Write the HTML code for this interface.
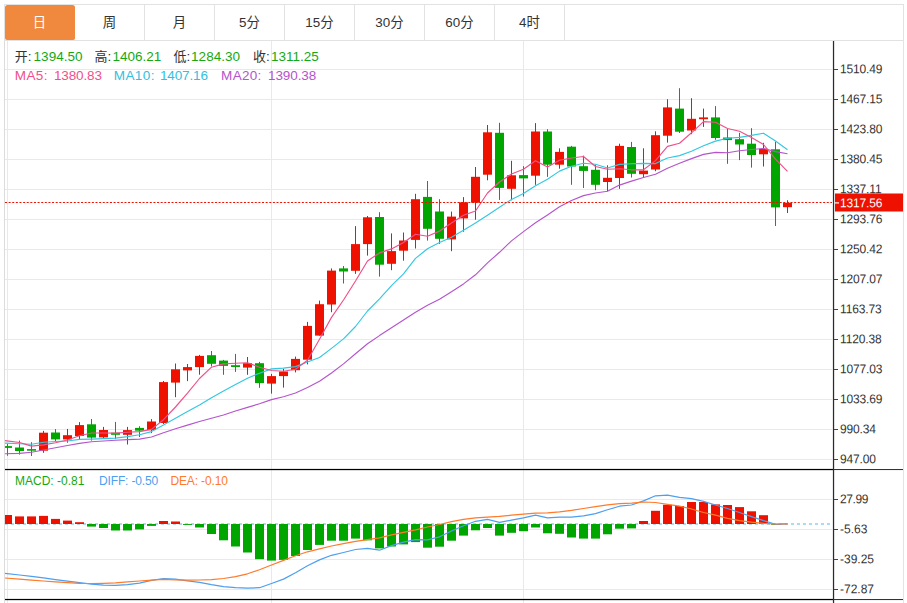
<!DOCTYPE html>
<html lang="zh"><head><meta charset="utf-8"><title>K线图</title>
<style>
html,body{margin:0;padding:0;background:#fff}
body{width:907px;height:603px;overflow:hidden;position:relative;font-family:"Liberation Sans","Noto Sans CJK SC",sans-serif;color:#333}
#g{position:absolute;left:0;top:0}
#tabs{position:absolute;left:4px;top:4px;width:898px;height:35px;border:1px solid #e2e2e2;background:#fff}
.tab{position:absolute;top:0;width:69px;height:35px;border-right:1px solid #e2e2e2;text-align:center;line-height:36px;font-size:13.4px;color:#333}
.tab.on{background:#f0883e;color:#fff;border-radius:2.5px 2.5px 2px 2px;border-right-color:#f0883e;height:35px}
.ax{position:absolute;left:840.4px;font-size:12px;line-height:16px;letter-spacing:-0.15px;transform:rotate(0.03deg) scaleY(1.06);transform-origin:0 50%;color:#333;white-space:nowrap}
.ax.cur{color:#fff}
.t{position:absolute;white-space:nowrap;font-size:13.5px;line-height:16px}
.n{letter-spacing:0.02px}
.n2{letter-spacing:-0.12px}
.cj{font-size:13px}
.m{font-size:12px;letter-spacing:0}
.gr{color:#14a814}
</style></head><body>
<svg id="g" width="907" height="603" viewBox="0 0 907 603">
<defs><clipPath id="cp2"><rect x="5" y="470" width="828" height="129"/></clipPath><clipPath id="cp"><rect x="5" y="41" width="828" height="428"/></clipPath></defs>
<rect x="5" y="69" width="827" height="1" fill="#e0ebf3"/>
<rect x="5" y="99" width="827" height="1" fill="#e0ebf3"/>
<rect x="5" y="129" width="827" height="1" fill="#e0ebf3"/>
<rect x="5" y="159" width="827" height="1" fill="#e0ebf3"/>
<rect x="5" y="189" width="827" height="1" fill="#e0ebf3"/>
<rect x="5" y="219" width="827" height="1" fill="#e0ebf3"/>
<rect x="5" y="249" width="827" height="1" fill="#e0ebf3"/>
<rect x="5" y="279" width="827" height="1" fill="#e0ebf3"/>
<rect x="5" y="309" width="827" height="1" fill="#e0ebf3"/>
<rect x="5" y="339" width="827" height="1" fill="#e0ebf3"/>
<rect x="5" y="369" width="827" height="1" fill="#e0ebf3"/>
<rect x="5" y="399" width="827" height="1" fill="#e0ebf3"/>
<rect x="5" y="429" width="827" height="1" fill="#e0ebf3"/>
<rect x="5" y="459" width="827" height="1" fill="#e0ebf3"/>
<rect x="5" y="499" width="827" height="1" fill="#e0ebf3"/>
<rect x="5" y="529" width="827" height="1" fill="#e0ebf3"/>
<rect x="5" y="559" width="827" height="1" fill="#e0ebf3"/>
<rect x="5" y="589" width="827" height="1" fill="#e0ebf3"/>
<rect x="7" y="41" width="1" height="562" fill="#e0ebf3"/>
<rect x="271" y="41" width="1" height="562" fill="#e0ebf3"/>
<rect x="523" y="41" width="1" height="562" fill="#e0ebf3"/>
<line x1="5" y1="524" x2="833" y2="524" stroke="#a9dbf1" stroke-width="2" stroke-dasharray="3 3"/>
<g clip-path="url(#cp2)">
<rect x="3" y="515" width="9" height="9" fill="#ee1100"/>
<rect x="15" y="516.4" width="9" height="7.6" fill="#ee1100"/>
<rect x="27" y="516.4" width="9" height="7.6" fill="#ee1100"/>
<rect x="39" y="515.9" width="9" height="8.1" fill="#ee1100"/>
<rect x="51" y="518.9" width="9" height="5.1" fill="#ee1100"/>
<rect x="63" y="520.6" width="9" height="3.4" fill="#ee1100"/>
<rect x="75" y="522.2" width="9" height="1.8" fill="#ee1100"/>
<rect x="87" y="524" width="9" height="2.6" fill="#00a500"/>
<rect x="99" y="524" width="9" height="4" fill="#00a500"/>
<rect x="111" y="524" width="9" height="6.5" fill="#00a500"/>
<rect x="123" y="524" width="9" height="6.5" fill="#00a500"/>
<rect x="135" y="524" width="9" height="5.4" fill="#00a500"/>
<rect x="147" y="524" width="9" height="1.9" fill="#00a500"/>
<rect x="159" y="521" width="9" height="3" fill="#ee1100"/>
<rect x="171" y="521.5" width="9" height="2.5" fill="#ee1100"/>
<rect x="183" y="524" width="9" height="0.9" fill="#00a500"/>
<rect x="195" y="524" width="9" height="3.5" fill="#00a500"/>
<rect x="207" y="524" width="9" height="10" fill="#00a500"/>
<rect x="219" y="524" width="9" height="16.3" fill="#00a500"/>
<rect x="231" y="524" width="9" height="22.5" fill="#00a500"/>
<rect x="243" y="524" width="9" height="28.5" fill="#00a500"/>
<rect x="255" y="524" width="9" height="35.2" fill="#00a500"/>
<rect x="267" y="524" width="9" height="36.6" fill="#00a500"/>
<rect x="279" y="524" width="9" height="35.9" fill="#00a500"/>
<rect x="291" y="524" width="9" height="32" fill="#00a500"/>
<rect x="303" y="524" width="9" height="26" fill="#00a500"/>
<rect x="315" y="524" width="9" height="20.9" fill="#00a500"/>
<rect x="327" y="524" width="9" height="16.7" fill="#00a500"/>
<rect x="339" y="524" width="9" height="16.7" fill="#00a500"/>
<rect x="351" y="524" width="9" height="14.6" fill="#00a500"/>
<rect x="363" y="524" width="9" height="16.3" fill="#00a500"/>
<rect x="375" y="524" width="9" height="24.4" fill="#00a500"/>
<rect x="387" y="524" width="9" height="22.5" fill="#00a500"/>
<rect x="399" y="524" width="9" height="20.4" fill="#00a500"/>
<rect x="411" y="524" width="9" height="18.1" fill="#00a500"/>
<rect x="423" y="524" width="9" height="23.7" fill="#00a500"/>
<rect x="435" y="524" width="9" height="22.7" fill="#00a500"/>
<rect x="447" y="524" width="9" height="16.7" fill="#00a500"/>
<rect x="459" y="524" width="9" height="11.6" fill="#00a500"/>
<rect x="471" y="524" width="9" height="6.3" fill="#00a500"/>
<rect x="483" y="524" width="9" height="4" fill="#00a500"/>
<rect x="495" y="524" width="9" height="11.6" fill="#00a500"/>
<rect x="507" y="524" width="9" height="8.8" fill="#00a500"/>
<rect x="519" y="524" width="9" height="7.2" fill="#00a500"/>
<rect x="531" y="524" width="9" height="3.5" fill="#00a500"/>
<rect x="543" y="524" width="9" height="9.3" fill="#00a500"/>
<rect x="555" y="524" width="9" height="9.8" fill="#00a500"/>
<rect x="567" y="524" width="9" height="13.5" fill="#00a500"/>
<rect x="579" y="524" width="9" height="14.6" fill="#00a500"/>
<rect x="591" y="524" width="9" height="14.6" fill="#00a500"/>
<rect x="603" y="524" width="9" height="10.3" fill="#00a500"/>
<rect x="615" y="524" width="9" height="4.7" fill="#00a500"/>
<rect x="627" y="524" width="9" height="4.4" fill="#00a500"/>
<rect x="639" y="521" width="9" height="3" fill="#ee1100"/>
<rect x="651" y="510.8" width="9" height="13.2" fill="#ee1100"/>
<rect x="663" y="504.8" width="9" height="19.2" fill="#ee1100"/>
<rect x="675" y="506" width="9" height="18" fill="#ee1100"/>
<rect x="687" y="502" width="9" height="22" fill="#ee1100"/>
<rect x="699" y="502" width="9" height="22" fill="#ee1100"/>
<rect x="711" y="504.4" width="9" height="19.6" fill="#ee1100"/>
<rect x="723" y="505" width="9" height="19" fill="#ee1100"/>
<rect x="735" y="507.1" width="9" height="16.9" fill="#ee1100"/>
<rect x="747" y="511.3" width="9" height="12.7" fill="#ee1100"/>
<rect x="759" y="515.2" width="9" height="8.8" fill="#ee1100"/>
<rect x="771" y="524" width="9" height="0.7" fill="#00a500"/>
</g>
<g clip-path="url(#cp)">
<rect x="7" y="443.9" width="1" height="11.9" fill="#00a500"/>
<rect x="3" y="446.1" width="9" height="1.8" fill="#00a500"/>
<rect x="19" y="440.6" width="1" height="14" fill="#00a500"/>
<rect x="15" y="447.5" width="9" height="3.5" fill="#00a500"/>
<rect x="31" y="442.2" width="1" height="13.8" fill="#00a500"/>
<rect x="27" y="449.1" width="9" height="1.6" fill="#00a500"/>
<rect x="43" y="430.9" width="1" height="21.9" fill="#ee1100"/>
<rect x="39" y="432.7" width="9" height="18" fill="#ee1100"/>
<rect x="55" y="429.1" width="1" height="11.9" fill="#00a500"/>
<rect x="51" y="432.5" width="9" height="6.9" fill="#00a500"/>
<rect x="67" y="428.9" width="1" height="13.8" fill="#ee1100"/>
<rect x="63" y="435.2" width="9" height="4.2" fill="#ee1100"/>
<rect x="79" y="422.1" width="1" height="16.9" fill="#ee1100"/>
<rect x="75" y="425.1" width="9" height="10.9" fill="#ee1100"/>
<rect x="91" y="419" width="1" height="21.6" fill="#00a500"/>
<rect x="87" y="424.3" width="9" height="13.3" fill="#00a500"/>
<rect x="103" y="426.9" width="1" height="12.1" fill="#ee1100"/>
<rect x="99" y="430" width="9" height="7.4" fill="#ee1100"/>
<rect x="115" y="421.9" width="1" height="17.2" fill="#00a500"/>
<rect x="111" y="432.7" width="9" height="2.1" fill="#00a500"/>
<rect x="127" y="426.9" width="1" height="17.6" fill="#ee1100"/>
<rect x="123" y="430.1" width="9" height="4.7" fill="#ee1100"/>
<rect x="139" y="426.2" width="1" height="10.8" fill="#00a500"/>
<rect x="135" y="427.9" width="9" height="2.8" fill="#00a500"/>
<rect x="151" y="419.1" width="1" height="14" fill="#ee1100"/>
<rect x="147" y="421.5" width="9" height="8.6" fill="#ee1100"/>
<rect x="163" y="381" width="1" height="43" fill="#ee1100"/>
<rect x="159" y="382.1" width="9" height="40.9" fill="#ee1100"/>
<rect x="175" y="363.5" width="1" height="33.7" fill="#ee1100"/>
<rect x="171" y="369.3" width="9" height="13.3" fill="#ee1100"/>
<rect x="187" y="364" width="1" height="17.1" fill="#ee1100"/>
<rect x="183" y="367.1" width="9" height="3.3" fill="#ee1100"/>
<rect x="199" y="354.9" width="1" height="19.8" fill="#ee1100"/>
<rect x="195" y="355.9" width="9" height="11.2" fill="#ee1100"/>
<rect x="211" y="351" width="1" height="15.5" fill="#00a500"/>
<rect x="207" y="355.2" width="9" height="8.6" fill="#00a500"/>
<rect x="223" y="359.9" width="1" height="14.9" fill="#00a500"/>
<rect x="219" y="360.6" width="9" height="5.3" fill="#00a500"/>
<rect x="235" y="353.9" width="1" height="18" fill="#00a500"/>
<rect x="231" y="365.2" width="9" height="1.8" fill="#00a500"/>
<rect x="247" y="357" width="1" height="17.8" fill="#ee1100"/>
<rect x="243" y="363.2" width="9" height="4.4" fill="#ee1100"/>
<rect x="259" y="361.9" width="1" height="25.9" fill="#00a500"/>
<rect x="255" y="363.2" width="9" height="19.9" fill="#00a500"/>
<rect x="271" y="373.9" width="1" height="19.7" fill="#ee1100"/>
<rect x="267" y="376.1" width="9" height="7.5" fill="#ee1100"/>
<rect x="283" y="368.8" width="1" height="18.8" fill="#ee1100"/>
<rect x="279" y="371.5" width="9" height="4.6" fill="#ee1100"/>
<rect x="295" y="356.6" width="1" height="15.8" fill="#ee1100"/>
<rect x="291" y="358.9" width="9" height="11.3" fill="#ee1100"/>
<rect x="307" y="321.9" width="1" height="42.5" fill="#ee1100"/>
<rect x="303" y="325.9" width="9" height="33.8" fill="#ee1100"/>
<rect x="319" y="300.6" width="1" height="35" fill="#ee1100"/>
<rect x="315" y="304.2" width="9" height="31.4" fill="#ee1100"/>
<rect x="331" y="268.4" width="1" height="43.8" fill="#ee1100"/>
<rect x="327" y="270.6" width="9" height="33.9" fill="#ee1100"/>
<rect x="343" y="266" width="1" height="17.5" fill="#00a500"/>
<rect x="339" y="268.4" width="9" height="3.1" fill="#00a500"/>
<rect x="355" y="226.1" width="1" height="47.8" fill="#ee1100"/>
<rect x="351" y="244.1" width="9" height="26.7" fill="#ee1100"/>
<rect x="367" y="216" width="1" height="39.6" fill="#ee1100"/>
<rect x="363" y="217.3" width="9" height="26.8" fill="#ee1100"/>
<rect x="379" y="212.2" width="1" height="64.4" fill="#00a500"/>
<rect x="375" y="217" width="9" height="47.7" fill="#00a500"/>
<rect x="391" y="233.4" width="1" height="36.8" fill="#ee1100"/>
<rect x="387" y="251.1" width="9" height="12.7" fill="#ee1100"/>
<rect x="403" y="232.5" width="1" height="28.2" fill="#ee1100"/>
<rect x="399" y="240.5" width="9" height="10.2" fill="#ee1100"/>
<rect x="415" y="193.8" width="1" height="54.7" fill="#ee1100"/>
<rect x="411" y="199.2" width="9" height="40.7" fill="#ee1100"/>
<rect x="427" y="181" width="1" height="59.6" fill="#00a500"/>
<rect x="423" y="196.9" width="9" height="31.9" fill="#00a500"/>
<rect x="439" y="199.2" width="1" height="44.7" fill="#00a500"/>
<rect x="435" y="211.5" width="9" height="27.3" fill="#00a500"/>
<rect x="451" y="211.6" width="1" height="39.6" fill="#ee1100"/>
<rect x="447" y="216.6" width="9" height="22.8" fill="#ee1100"/>
<rect x="463" y="197.1" width="1" height="34.6" fill="#ee1100"/>
<rect x="459" y="202.3" width="9" height="16.1" fill="#ee1100"/>
<rect x="475" y="167" width="1" height="52.7" fill="#ee1100"/>
<rect x="471" y="176.8" width="9" height="25.9" fill="#ee1100"/>
<rect x="487" y="125" width="1" height="55.3" fill="#ee1100"/>
<rect x="483" y="132.3" width="9" height="42.4" fill="#ee1100"/>
<rect x="499" y="122.8" width="1" height="77.1" fill="#00a500"/>
<rect x="495" y="132.8" width="9" height="55.1" fill="#00a500"/>
<rect x="511" y="160.8" width="1" height="39.5" fill="#ee1100"/>
<rect x="507" y="175.3" width="9" height="13.5" fill="#ee1100"/>
<rect x="523" y="166.2" width="1" height="30.4" fill="#00a500"/>
<rect x="519" y="175.1" width="9" height="3.3" fill="#00a500"/>
<rect x="535" y="123.1" width="1" height="61.7" fill="#ee1100"/>
<rect x="531" y="131.5" width="9" height="44.2" fill="#ee1100"/>
<rect x="547" y="129.2" width="1" height="47.7" fill="#00a500"/>
<rect x="543" y="131.5" width="9" height="33.2" fill="#00a500"/>
<rect x="559" y="148.3" width="1" height="20.4" fill="#ee1100"/>
<rect x="555" y="151.9" width="9" height="12.8" fill="#ee1100"/>
<rect x="571" y="145.9" width="1" height="38.9" fill="#00a500"/>
<rect x="567" y="146.7" width="9" height="19.8" fill="#00a500"/>
<rect x="583" y="155.6" width="1" height="32.4" fill="#00a500"/>
<rect x="579" y="166.2" width="9" height="4.7" fill="#00a500"/>
<rect x="595" y="164.7" width="1" height="25.5" fill="#00a500"/>
<rect x="591" y="169.8" width="9" height="15" fill="#00a500"/>
<rect x="607" y="165.3" width="1" height="25.9" fill="#ee1100"/>
<rect x="603" y="177.8" width="9" height="4.2" fill="#ee1100"/>
<rect x="619" y="143.7" width="1" height="45.1" fill="#ee1100"/>
<rect x="615" y="145.9" width="9" height="32.1" fill="#ee1100"/>
<rect x="631" y="141.9" width="1" height="35.6" fill="#00a500"/>
<rect x="627" y="147" width="9" height="26.8" fill="#00a500"/>
<rect x="643" y="148.3" width="1" height="28.8" fill="#ee1100"/>
<rect x="639" y="170.6" width="9" height="3.6" fill="#ee1100"/>
<rect x="655" y="131.3" width="1" height="39.9" fill="#ee1100"/>
<rect x="651" y="135.2" width="9" height="34.3" fill="#ee1100"/>
<rect x="667" y="99.2" width="1" height="43.4" fill="#ee1100"/>
<rect x="663" y="107.4" width="9" height="28.3" fill="#ee1100"/>
<rect x="679" y="88.2" width="1" height="44.8" fill="#00a500"/>
<rect x="675" y="108.6" width="9" height="23.1" fill="#00a500"/>
<rect x="691" y="98.2" width="1" height="36" fill="#ee1100"/>
<rect x="687" y="118.8" width="9" height="11.7" fill="#ee1100"/>
<rect x="703" y="108.6" width="1" height="18.3" fill="#ee1100"/>
<rect x="699" y="117.4" width="9" height="1.8" fill="#ee1100"/>
<rect x="715" y="106.1" width="1" height="33.7" fill="#00a500"/>
<rect x="711" y="117.4" width="9" height="20.6" fill="#00a500"/>
<rect x="727" y="129" width="1" height="34.8" fill="#00a500"/>
<rect x="723" y="137.5" width="9" height="2.6" fill="#00a500"/>
<rect x="739" y="132.8" width="1" height="27.3" fill="#00a500"/>
<rect x="735" y="139.2" width="9" height="5.3" fill="#00a500"/>
<rect x="751" y="128.2" width="1" height="39.4" fill="#00a500"/>
<rect x="747" y="143.7" width="9" height="11.3" fill="#00a500"/>
<rect x="763" y="142.8" width="1" height="23.7" fill="#ee1100"/>
<rect x="759" y="148.8" width="9" height="5.5" fill="#ee1100"/>
<rect x="775" y="141.7" width="1" height="84.3" fill="#00a500"/>
<rect x="771" y="149.3" width="9" height="58.1" fill="#00a500"/>
<rect x="787" y="200.2" width="1" height="12.8" fill="#ee1100"/>
<rect x="783" y="202.8" width="9" height="4.4" fill="#ee1100"/>
</g>
<polyline points="5,453.7 19.5,453.4 31.5,452.2 43.5,450 55.5,447.7 67.5,445.5 79.5,443.4 91.5,441.8 103.5,441 115.5,440.2 127.5,439.6 139.5,439.1 151.5,437 163.5,432.7 175.5,428.8 187.5,425.1 199.5,421.5 211.5,418.2 223.5,415 235.5,411 247.5,407.4 259.5,403.7 271.5,399.6 283.5,396.7 295.5,393 307.5,387.6 319.5,381.2 331.5,373 343.5,363.9 355.5,353.8 367.5,343.8 379.5,335.6 391.5,327.8 403.5,320 415.5,312.2 427.5,305.2 439.5,299.2 451.5,291.8 463.5,283.9 475.5,274.8 487.5,262.9 499.5,252.3 511.5,240.9 523.5,231.6 535.5,222.8 547.5,214.9 559.5,206.7 571.5,200.5 583.5,195.6 595.5,193 607.5,191.2 619.5,185.1 631.5,181.1 643.5,177.5 655.5,174.3 667.5,168.2 679.5,163.2 691.5,158.6 703.5,154.4 715.5,152.4 727.5,152.8 739.5,150.8 751.5,149.5 763.5,148.5 775.5,151.6 787.5,153.7" fill="none" stroke="#b455cc" stroke-width="1.15" stroke-linejoin="round"/>
<polyline points="5,443.1 19.5,443.7 31.5,444.3 43.5,442.2 55.5,441.5 67.5,441 79.5,439.4 91.5,439.1 103.5,438.6 115.5,438.1 127.5,436.6 139.5,434.8 151.5,431.6 163.5,425.1 175.5,418.3 187.5,411.6 199.5,405 211.5,397.7 223.5,391.1 235.5,384.5 247.5,378.2 259.5,373.2 271.5,368.9 283.5,368.1 295.5,366.6 307.5,362 319.5,357.5 331.5,348.4 343.5,338.9 355.5,326.5 367.5,311 379.5,298.8 391.5,285.7 403.5,273.9 415.5,258.4 427.5,248.8 439.5,242.5 451.5,237.2 463.5,230.2 475.5,223 487.5,215.2 499.5,207.2 511.5,199.4 523.5,193.6 535.5,185.7 547.5,179.3 559.5,171.1 571.5,166.2 583.5,163.3 595.5,164.2 607.5,168 619.5,164.4 631.5,163.8 643.5,163.4 655.5,163.6 667.5,158 679.5,155.6 691.5,151.2 703.5,145.7 715.5,141.1 727.5,138.3 739.5,137.4 751.5,135.4 763.5,133.2 775.5,141 787.5,149.7" fill="none" stroke="#33c8e0" stroke-width="1.15" stroke-linejoin="round"/>
<polyline points="5,440.6 19.5,442.5 31.5,446.1 43.5,444.9 55.5,442.7 67.5,440 79.5,435.8 91.5,433 103.5,433 115.5,433.1 127.5,432.2 139.5,431.6 151.5,429.4 163.5,419.7 175.5,407 187.5,393.1 199.5,378.5 211.5,367.2 223.5,363.9 235.5,363.2 247.5,362.8 259.5,367.2 271.5,370.5 283.5,371.2 295.5,369.3 307.5,360.2 319.5,339.2 331.5,317.4 343.5,300 355.5,281 367.5,261 379.5,252.9 391.5,248.9 403.5,242.5 415.5,234.2 427.5,236.3 439.5,231.1 451.5,223 463.5,215.3 475.5,211 487.5,193 499.5,182 511.5,174 523.5,169.3 535.5,160.7 547.5,166.9 559.5,160.2 571.5,158 583.5,156.5 595.5,166.5 607.5,169.3 619.5,168.7 631.5,169.8 643.5,169.8 655.5,160.6 667.5,146.4 679.5,143.2 691.5,132.8 703.5,121.6 715.5,122.3 727.5,128.5 739.5,131.3 751.5,137.6 763.5,144.5 775.5,159.2 787.5,171.4" fill="none" stroke="#f0508a" stroke-width="1.15" stroke-linejoin="round"/>
<polyline points="5,573.3 19.5,575 31.5,576.4 43.5,577.8 55.5,579.6 67.5,581.2 79.5,582.6 91.5,584.2 103.5,585.2 115.5,585.4 127.5,584.7 139.5,583.1 151.5,580.3 163.5,578.5 175.5,579.1 187.5,580.8 199.5,582.3 211.5,584.7 223.5,586.6 235.5,587.7 247.5,588.2 259.5,587.7 271.5,583.5 283.5,579.1 295.5,572.7 307.5,565.7 319.5,559.9 331.5,555.3 343.5,552.5 355.5,549.5 367.5,548.4 379.5,550.2 391.5,545.6 403.5,542.2 415.5,539.6 427.5,539.8 439.5,536.8 451.5,531 463.5,525.7 475.5,521.3 487.5,519.4 499.5,522.4 511.5,520.1 523.5,517.8 535.5,515.2 547.5,517.8 559.5,517.1 571.5,517.1 583.5,515.9 595.5,513.6 607.5,509.8 619.5,506.2 631.5,505 643.5,500.9 655.5,495.8 667.5,495.1 679.5,497.4 691.5,498.6 703.5,501.4 715.5,505 727.5,508.5 739.5,512.5 751.5,516.6 763.5,520.6 775.5,524.3 787.5,523.8" fill="none" stroke="#4d9ff0" stroke-width="1.2" stroke-linejoin="round"/>
<polyline points="5,578 19.5,579.1 31.5,580.1 43.5,581 55.5,581.9 67.5,582.6 79.5,583.3 91.5,583.5 103.5,583.3 115.5,582.9 127.5,581.9 139.5,581 151.5,580.1 163.5,579.4 175.5,579.8 187.5,580.1 199.5,580 211.5,579.6 223.5,578.5 235.5,576.6 247.5,573.8 259.5,569.7 271.5,565 283.5,560.4 295.5,555.8 307.5,551.8 319.5,548.8 331.5,546 343.5,543.7 355.5,541.4 367.5,539.6 379.5,537.9 391.5,534.9 403.5,532.3 415.5,529.8 427.5,527 439.5,524.5 451.5,521.7 463.5,519.4 475.5,517.8 487.5,517.1 499.5,516.4 511.5,515.2 523.5,514.1 535.5,513.2 547.5,512.9 559.5,511.8 571.5,510.4 583.5,508.5 595.5,506.7 607.5,504.9 619.5,503.7 631.5,503.2 643.5,502 655.5,502.5 667.5,504.4 679.5,506.2 691.5,509 703.5,512.5 715.5,515.2 727.5,518.3 739.5,520.6 751.5,522.2 763.5,523.3 775.5,524 787.5,523.8" fill="none" stroke="#ff7a2a" stroke-width="1.2" stroke-linejoin="round"/>
<line x1="5" y1="202.5" x2="832" y2="202.5" stroke="#ee1100" stroke-width="1.1" stroke-dasharray="2 1.62"/>
<rect x="4" y="41" width="1" height="562" fill="#dcdcdc"/>
<rect x="903" y="41" width="1" height="562" fill="#e4e4e4"/>
<rect x="5" y="468.9" width="828" height="1.25" fill="#000"/>
<rect x="833" y="469" width="70" height="1.05" fill="#333"/>
<rect x="5" y="598.9" width="828" height="1.25" fill="#000"/>
<rect x="833" y="599" width="70" height="1.05" fill="#333"/>
<rect x="832.9" y="41" width="1.25" height="562" fill="#2a2a2a"/>
<rect x="834" y="69" width="4" height="1" fill="#444"/>
<rect x="834" y="99" width="4" height="1" fill="#444"/>
<rect x="834" y="129" width="4" height="1" fill="#444"/>
<rect x="834" y="159" width="4" height="1" fill="#444"/>
<rect x="834" y="189" width="4" height="1" fill="#444"/>
<rect x="834" y="219" width="4" height="1" fill="#444"/>
<rect x="834" y="249" width="4" height="1" fill="#444"/>
<rect x="834" y="279" width="4" height="1" fill="#444"/>
<rect x="834" y="309" width="4" height="1" fill="#444"/>
<rect x="834" y="339" width="4" height="1" fill="#444"/>
<rect x="834" y="369" width="4" height="1" fill="#444"/>
<rect x="834" y="399" width="4" height="1" fill="#444"/>
<rect x="834" y="429" width="4" height="1" fill="#444"/>
<rect x="834" y="459" width="4" height="1" fill="#444"/>
<rect x="834" y="499" width="4" height="1" fill="#444"/>
<rect x="834" y="529" width="4" height="1" fill="#444"/>
<rect x="834" y="559" width="4" height="1" fill="#444"/>
<rect x="834" y="589" width="4" height="1" fill="#444"/>
<rect x="835" y="193.5" width="68" height="18" fill="#ee1100"/>
<rect x="835" y="202.3" width="4" height="1.2" fill="#fff"/>
</svg>
<div id="tabs"><div class="tab on" style="left:0px">日</div><div class="tab" style="left:70px">周</div><div class="tab" style="left:140px">月</div><div class="tab" style="left:210px">5分</div><div class="tab" style="left:280px">15分</div><div class="tab" style="left:350px">30分</div><div class="tab" style="left:420px">60分</div><div class="tab" style="left:490px">4时</div></div>
<span class="t" style="left:14.8px;top:49px"><span class="cj">开</span>:</span><span class="t n gr" style="left:33.6px;top:49px">1394.50</span>
<span class="t" style="left:94.6px;top:49px"><span class="cj">高</span>:</span><span class="t n gr" style="left:112.4px;top:49px">1406.21</span>
<span class="t" style="left:173.4px;top:49px"><span class="cj">低</span>:</span><span class="t n gr" style="left:191.1px;top:49px">1284.30</span>
<span class="t" style="left:253px;top:49px"><span class="cj">收</span>:</span><span class="t n gr" style="left:270.9px;top:49px">1311.25</span>
<span class="t" style="left:14.8px;top:67.5px;color:#f0508a;letter-spacing:0.4px">MA5:</span><span class="t n2" style="left:53.9px;top:67.5px;color:#f0508a">1380.83</span>
<span class="t" style="left:113.8px;top:67.5px;color:#33c0e0;letter-spacing:0.4px">MA10:</span><span class="t n2" style="left:159.9px;top:67.5px;color:#33c0e0">1407.16</span>
<span class="t" style="left:221.1px;top:67.5px;color:#b455cc;letter-spacing:0.3px">MA20:</span><span class="t n2" style="left:268.1px;top:67.5px;color:#b455cc">1390.38</span>
<span class="t m" style="left:15px;top:473px;color:#14a814">MACD: -0.81</span>
<span class="t m" style="left:99px;top:473px;color:#4d9ff0;letter-spacing:-0.15px">DIFF: -0.50</span>
<span class="t m" style="left:170.5px;top:473px;color:#ff7a2a;letter-spacing:-0.15px">DEA: -0.10</span>
<span class="ax" style="top:61.4px">1510.49</span><span class="ax" style="top:91.4px">1467.15</span><span class="ax" style="top:121.4px">1423.80</span><span class="ax" style="top:151.4px">1380.45</span><span class="ax" style="top:181.4px">1337.11</span><span class="ax" style="top:211.4px">1293.76</span><span class="ax" style="top:241.4px">1250.42</span><span class="ax" style="top:271.4px">1207.07</span><span class="ax" style="top:301.4px">1163.73</span><span class="ax" style="top:331.4px">1120.38</span><span class="ax" style="top:361.4px">1077.03</span><span class="ax" style="top:391.4px">1033.69</span><span class="ax" style="top:421.4px">990.34</span><span class="ax" style="top:451.4px">947.00</span><span class="ax" style="top:491.4px;left:840px;letter-spacing:-0.4px">27.99</span><span class="ax" style="top:521.4px;left:840px;letter-spacing:0">-5.63</span><span class="ax" style="top:551.4px;left:840px;letter-spacing:0">-39.25</span><span class="ax" style="top:581.4px;left:840px;letter-spacing:0">-72.87</span><span class="ax cur" style="top:194.9px">1317.56</span>
</body></html>
